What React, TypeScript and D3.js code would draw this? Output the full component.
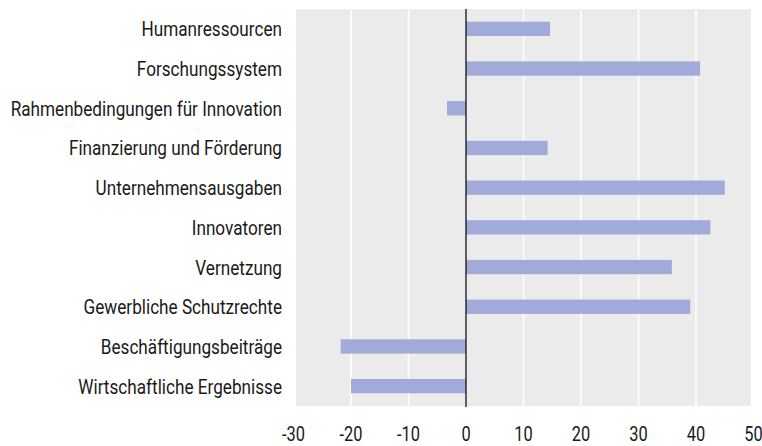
import React from "react";
import * as d3 from "d3";

const categories = [
  "Humanressourcen",
  "Forschungssystem",
  "Rahmenbedingungen für Innovation",
  "Finanzierung und Förderung",
  "Unternehmensausgaben",
  "Innovatoren",
  "Vernetzung",
  "Gewerbliche Schutzrechte",
  "Beschäftigungsbeiträge",
  "Wirtschaftliche Ergebnisse",
];
const values = [14.6, 40.7, -3.3, 14.2, 45, 42.5, 35.8, 39, -21.8, -20];
const ticks = [-30, -20, -10, 0, 10, 20, 30, 40, 50];

const W = 762;
const H = 446;
const FONT = "Roboto, 'DejaVu Sans Condensed', sans-serif";
const SX = 0.88;
const TSX = 0.8;

export default function App() {
  const x = d3.scaleLinear().domain([-30, 50]).range([293.5, 753.5]);
  const y = d3.scaleBand<string>().domain(categories).range([9, 406]).paddingInner(0.64).paddingOuter(0.32);
  const bgLeft = 296;
  const bgRight = 751;
  return (
    <svg width={W} height={H} style={{ position: "absolute", left: 0, top: 0 }}>
      <rect x={bgLeft} y={9} width={bgRight - bgLeft} height={397} fill="#ebebeb" />
      {ticks
        .filter((t) => t !== 0 && x(t) > bgLeft && x(t) < bgRight)
        .map((t) => (
          <line key={t} x1={x(t)} x2={x(t)} y1={9} y2={406} stroke="#ffffff" strokeWidth={1.5} />
        ))}
      {categories.map((c, i) => {
        const v = values[i];
        return (
          <rect
            key={c}
            x={x(Math.min(0, v))}
            y={y(c)!}
            width={Math.abs(x(v) - x(0))}
            height={y.bandwidth()}
            fill="#a1abd9"
          />
        );
      })}
      <line x1={x(0)} x2={x(0)} y1={9} y2={407} stroke="#000" strokeWidth={1.2} />
      <g transform={`scale(${SX},1)`}>
        {categories.map((c) => (
          <text
            key={c}
            x={282 / SX}
            y={y(c)! + y.bandwidth() / 2 + 7.5}
            textAnchor="end"
            fontFamily={FONT}
            fontSize={19.5}
            fill="#1a1a1a"
          >
            {c}
          </text>
        ))}
      </g>
      <g transform={`scale(${TSX},1)`}>
        {ticks.map((t) => (
          <text
            key={t}
            x={x(t) / TSX}
            y={441}
            textAnchor="middle"
            fontFamily={FONT}
            fontSize={20.5}
            fill="#1a1a1a"
          >
            {t}
          </text>
        ))}
      </g>
    </svg>
  );
}
